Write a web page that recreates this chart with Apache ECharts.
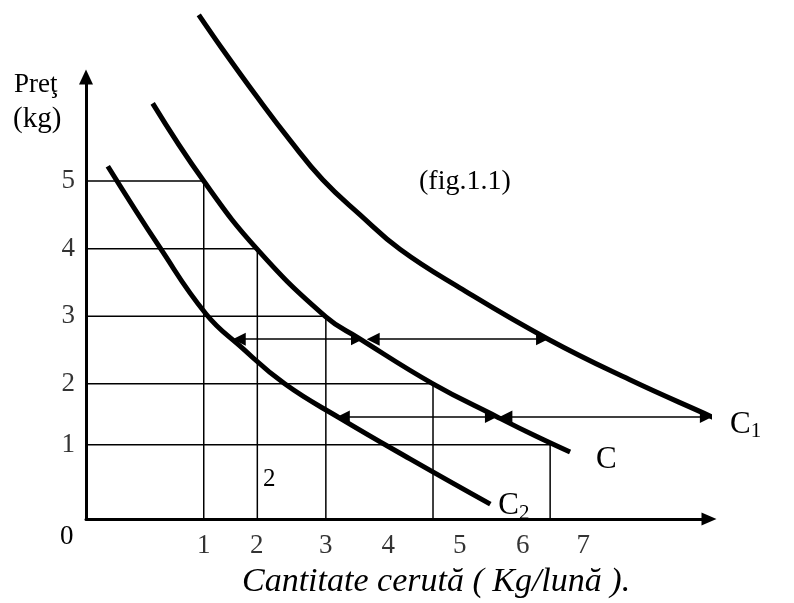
<!DOCTYPE html>
<html>
<head>
<meta charset="utf-8">
<title>Curba cererii</title>
<script src="https://cdn.jsdelivr.net/npm/echarts@6/dist/echarts.min.js"></script>
<style>
  html, body { margin: 0; padding: 0; background: #fff; }
  #chart { width: 794px; height: 603px; }
</style>
</head>
<body>
<div id="chart"></div>
<script>
// curbele de cerere: [cantitate, pret]
const curveC = [[1.07, 6.15], [1.89, 5.0], [2.75, 3.99], [3.85, 2.99], [4.37, 2.68], [5.57, 2.0], [6.60, 1.51], [7.21, 1.23], [7.77, 0.99]]
const curveC1 = [[1.81, 7.46], [2.20, 6.94], [2.75, 6.24], [3.27, 5.61], [3.80, 5.02], [4.40, 4.50], [5.04, 3.99], [6.00, 3.42], [7.42, 2.66], [8.73, 2.06], [10.05, 1.51], [10.50, 1.32]]
const curveC2 = [[0.35, 5.22], [1.19, 4.01], [1.93, 3.03], [2.47, 2.56], [3.19, 2.0], [4.08, 1.49], [5.20, 0.89], [6.49, 0.22]]

// liniile ajutatoare (pret -> cantitate pe curba C)
const priceLevels = [5, 4, 3, 2, 1.1]
const qtyLevels = [1.89, 2.75, 3.85, 5.57, 7.45]

// sagetile orizontale (deplasarea cererii)
const arrowPrices = [2.66, 2.66, 1.51, 1.51]
const arrowFrom = [2.46, 4.61, 4.13, 6.74]
const arrowTo = [4.35, 7.32, 6.50, 9.95]

// etichetele axelor
const xTickText = ['1', '2', '3', '4', '5', '6', '7']
const xTickPos = [1.89, 2.74, 3.85, 4.85, 6.0, 7.01, 7.98]
const yTickText = ['5', '4', '3', '2', '1']
const yTickPos = [5, 4, 3, 2, 1.1]

const SERIF = '"Liberation Serif", "Times New Roman", serif'

const chart = echarts.init(document.getElementById('chart'))

// linii in forma de L de la axa Y la curba si in jos spre axa X
const guideSeries = priceLevels.map((p, i) => ({
  type: 'line',
  data: [[0, p], [qtyLevels[i], p], [qtyLevels[i], 0]],
  symbol: 'none',
  silent: true,
  z: 1,
  lineStyle: { color: '#000', width: 1.5 }
}))

const curve = (data, main, sub, offset) => ({
  type: 'line',
  data: data,
  smooth: 0.45,
  symbol: 'none',
  clip: false,
  z: 3,
  lineStyle: { color: '#000', width: 5 },
  endLabel: {
    show: true,
    distance: 0,
    offset: offset,
    formatter: sub ? '{m|' + main + '}{s|' + sub + '}' : '{m|' + main + '}',
    rich: {
      m: { fontFamily: SERIF, fontSize: 31, color: '#000' },
      s: { fontFamily: SERIF, fontSize: 21, color: '#000', padding: [14, 0, 0, 0] }
    }
  }
})

const option = {
  animation: false,
  grid: { left: 86, top: 77, width: 623, height: 442 },
  xAxis: {
    type: 'value',
    min: 0,
    max: 10,
    axisLine: {
      onZero: false,
      symbol: ['none', 'triangle'],
      symbolSize: [13, 15],
      lineStyle: { color: '#000', width: 3 }
    },
    axisTick: { show: false },
    axisLabel: { show: false },
    splitLine: { show: false }
  },
  yAxis: {
    type: 'value',
    min: 0,
    max: 6.54,
    axisLine: {
      onZero: false,
      symbol: ['none', 'triangle'],
      symbolSize: [14, 15],
      lineStyle: { color: '#000', width: 3 }
    },
    axisTick: { show: false },
    axisLabel: { show: false },
    splitLine: { show: false }
  },
  series: [
    ...guideSeries,
    {
      type: 'lines',
      coordinateSystem: 'cartesian2d',
      silent: true,
      z: 2,
      symbol: ['triangle', 'triangle'],
      symbolSize: [13, 12],
      lineStyle: { color: '#000', width: 1.5, opacity: 1 },
      data: arrowFrom.map((x, i) => ({ coords: [[x, arrowPrices[i]], [arrowTo[i], arrowPrices[i]]] }))
    },
    curve(curveC, 'C', '', [26, 8]),
    curve(curveC1, 'C', '1', [18, 8]),
    curve(curveC2, 'C', '2', [8, 2]),
    {
      type: 'scatter',
      symbolSize: 0,
      clip: false,
      silent: true,
      data: xTickPos.map((x, i) => ({ value: [x, 0], name: xTickText[i] })),
      label: {
        show: true,
        position: 'bottom',
        distance: 13,
        formatter: '{b}',
        fontFamily: SERIF,
        fontSize: 27,
        color: '#000'
      }
    },
    {
      type: 'scatter',
      symbolSize: 0,
      clip: false,
      silent: true,
      data: yTickPos.map((y, i) => ({ value: [0, y], name: yTickText[i] })),
      label: {
        show: true,
        position: 'left',
        distance: 11,
        formatter: '{b}',
        fontFamily: SERIF,
        fontSize: 27,
        color: '#000'
      }
    }
  ],
  graphic: [
    { type: 'text', x: 14, y: 71, style: { text: 'Preţ', font: '27px ' + SERIF, fill: '#000' } },
    { type: 'text', x: 13, y: 105, style: { text: '(kg)', font: '29px ' + SERIF, fill: '#000' } },
    { type: 'text', x: 419, y: 168, style: { text: '(fig.1.1)', font: '28px ' + SERIF, fill: '#000' } },
    { type: 'text', x: 60, y: 523, style: { text: '0', font: '27px ' + SERIF, fill: '#000' } },
    { type: 'text', x: 263, y: 467, style: { text: '2', font: '25px ' + SERIF, fill: '#000' } },
    { type: 'text', x: 242, y: 565, style: { text: 'Cantitate cerută ( Kg/lună ).', font: 'italic 34px ' + SERIF, fill: '#000' } }
  ]
}

chart.setOption(option)
</script>
</body>
</html>
